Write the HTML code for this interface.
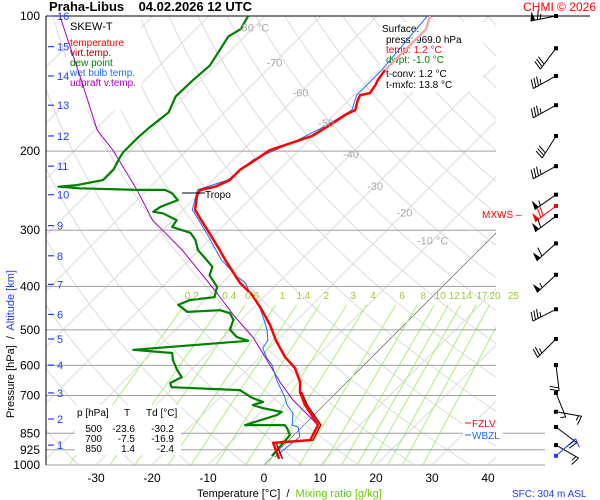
<!DOCTYPE html>
<html><head><meta charset="utf-8">
<style>
html,body{margin:0;padding:0;background:#fff;}
svg{display:block;font-family:"Liberation Sans",sans-serif;}
</style></head>
<body>
<svg id="chart" width="600" height="500" viewBox="0 0 600 500" xmlns="http://www.w3.org/2000/svg">
<rect x="0" y="0" width="600" height="500" fill="#fff"/>
<defs><clipPath id="plotclip"><rect x="46" y="16" width="450" height="449"/></clipPath></defs>
<g id="grid" clip-path="url(#plotclip)"></g>
<g id="isobars"></g>

<g>
<rect x="66" y="17" width="75" height="93" fill="#fff"/>
<text x="70" y="30" font-size="11" fill="#000">SKEW-T</text>
<text x="70" y="46" font-size="10" fill="#f00">temperature</text>
<text x="70" y="56" font-size="10" fill="#a00000">virt.temp.</text>
<text x="70" y="66" font-size="10" fill="#008000">dew point</text>
<text x="70" y="76" font-size="10" fill="#1e6cff">wet bulb temp.</text>
<text x="70" y="86" font-size="10" fill="#a000c0">udpraft v.temp.</text>
</g>

<g>
<rect x="380" y="22" width="103" height="70" fill="#fff"/>
<text x="382" y="32" font-size="10" fill="#000">Surface:</text>
<text x="386" y="43" font-size="10" fill="#000">press: 969.0 hPa</text>
<text x="386" y="53" font-size="10" fill="#f00">temp: 1.2 °C</text>
<text x="386" y="63" font-size="10" fill="#008000">dwpt: -1.0 °C</text>
<text x="386" y="77" font-size="10" fill="#000">t-conv: 1.2 °C</text>
<text x="386" y="88" font-size="10" fill="#000">t-mxfc: 13.8 °C</text>
</g>

<g>
<rect x="75" y="405" width="106" height="50" fill="#fff"/>
<text x="77" y="416" font-size="10" fill="#000">p [hPa]</text>
<text x="124" y="416" font-size="10" fill="#000">T</text>
<text x="146" y="416" font-size="10" fill="#000">Td [°C]</text>
<text x="102" y="432" font-size="10" fill="#000" text-anchor="end">500</text>
<text x="135" y="432" font-size="10" fill="#000" text-anchor="end">-23.6</text>
<text x="174" y="432" font-size="10" fill="#000" text-anchor="end">-30.2</text>
<text x="102" y="442" font-size="10" fill="#000" text-anchor="end">700</text>
<text x="135" y="442" font-size="10" fill="#000" text-anchor="end">-7.5</text>
<text x="174" y="442" font-size="10" fill="#000" text-anchor="end">-16.9</text>
<text x="102" y="452" font-size="10" fill="#000" text-anchor="end">850</text>
<text x="135" y="452" font-size="10" fill="#000" text-anchor="end">1.4</text>
<text x="174" y="452" font-size="10" fill="#000" text-anchor="end">-2.4</text>
</g>

<g>
<rect x="463" y="417" width="40" height="24" fill="#fff"/>
<line x1="465" y1="423" x2="471" y2="423" stroke="#f00"/>
<text x="472" y="427" font-size="10" fill="#f00">FZLV</text>
<line x1="465" y1="435" x2="471" y2="435" stroke="#1e6cff"/>
<text x="472" y="439" font-size="10" fill="#1e6cff">WBZL</text>
</g>

<g id="series" clip-path="url(#plotclip)"></g>
<g id="labels"></g>
<g id="barbs"></g>

<text x="49" y="11" font-size="13" font-weight="bold" fill="#000">Praha-Libus&#160;&#160;&#160; 04.02.2026 12 UTC</text>
<text x="596" y="11" font-size="12" fill="#f00" text-anchor="end">CHMI © 2026</text>

<g>
<line x1="182" y1="193" x2="205" y2="193" stroke="#000" stroke-width="1"/>
<text x="205" y="198" font-size="10" fill="#000">Tropo</text>
</g>
<text x="482" y="218" font-size="10" fill="#f00">MXWS –</text>

<text x="197" y="497" font-size="11" fill="#000">Temperature [°C]&#160; / &#160;<tspan fill="#66cc00">Mixing ratio [g/kg]</tspan></text>
<text x="512" y="497" font-size="10" fill="#1e3cff">SFC: 304 m ASL</text>
<text transform="translate(14,418) rotate(-90)" font-size="11" fill="#000">Pressure [hPa]&#160; /&#160; <tspan fill="#1e3cff">Altitude [km]</tspan></text>

<script>
// ---- data ----
const tempP = [969,893,880,814,735,688,653,608,575,527,488,452,418,393,349,332,307,282,270,250,244,240,232,220,209,199,194,189,185,175,166,162,154,150,148.5,142,139,132];
const tempT = [1.6,-2.3,3.8,2.5,-3.4,-6.6,-8.4,-11.8,-15.5,-20.2,-23.9,-28,-32.5,-36.8,-43.6,-46.3,-50.7,-55.5,-57.9,-60.2,-60.5,-58.4,-57,-57,-56,-55.2,-53.4,-51.6,-50.2,-48.9,-48,-47.1,-48.4,-48.9,-47.5,-48,-48.4,-48.9];
const tempUpperP = [132,119,107,100];
const tempUpperT = [-48.9,-48.9,-48.9,-50.5];
const virtP = [969,893,880,814,735,688];
const virtT = [2.2,-1.8,4.3,3.0,-3.0,-6.3];
const dewP = [955,893,858,827,815,815,774,762,747,735,724,709,681,671,657,637,614,584,563,554,529,519,500,475,459,452,456,440,429,423,401,378,362,346,332,315,304,295,285,275,273,266,257,248,244,244,242,240,238,232,220,209,201,187,177,164,151,139,129,119,111,107,100];
const dewT = [-0.2,-0.5,-0.7,-2.5,-3.4,-10.5,-6.6,-6.3,-10.4,-12.7,-11.4,-14.1,-17.7,-30.4,-31.4,-30.4,-32.5,-35,-36.4,-43.9,-25,-27.7,-30.2,-31.4,-33.2,-35.5,-41,-43.9,-42.7,-38.8,-40.2,-43.6,-44.6,-47.5,-50.2,-52.5,-54.6,-58.9,-59.3,-63,-65,-64.6,-62.7,-65,-66.8,-71.8,-82.3,-86.4,-83.4,-79.6,-79.6,-80.5,-81,-81,-80.7,-80,-81.6,-81.4,-81,-82,-82.9,-82,-83];
const wetP = [960,889,866,823,815,766,735,706,647,599,578,549,527,500,468,436,414,393,381,349,307,270,244,232,209,189,175,162,150,132,100];
const wetT = [0.5,1.1,1.4,-0.7,-2.1,-4.1,-6.6,-8.4,-12.9,-16.4,-18.6,-21.1,-21.6,-23.6,-26.6,-30,-33.2,-35.9,-38.4,-44.3,-51.2,-58.4,-61,-57.4,-56.4,-52,-49.4,-47.7,-49.5,-49.5,-51];
const parcelP = [815,754,717,653,584,521,463,414,332,285,244,199,179.5,140,100.5];
const parcelT = [2.5,-2.9,-6.4,-12,-18.2,-24.6,-32.3,-39.1,-53,-63.6,-71.8,-83.2,-89.6,-101,-116.4];
const pressureTicks = [100,200,300,400,500,600,700,850,925,1000];
const tempTicks = [-30,-20,-10,0,10,20,30,40];
const altKm = [16,15,14,13,12,11,10,9,8,7,6,5,4,3,2,1];
const altP = [100,117,136,158,185,216,250,293,342,396,462,524,599,691,790,903];
const mixRatios = [0.2,0.4,0.6,1,1.4,2,3,4,6,8,10,12,14,17,20,25];
const isoLabels = [-80,-70,-60,-50,-40,-30,-20,-10];
const isoLabelP = [106,127,148,173,203,239,274,316];
const barbP = [100,118,136,158,185,216,250,265,279,321,377,450,524,599,691,761,823,903,954];
const barbDir = [259,217,241,241,212,241,235,233,233,228,227,243,225,173,158,100,127,120,49];
const barbSpd = [65,30,35,35,30,35,55,70,60,60,55,35,25,20,5,15,20,15,10];

// ---- scales ----
const NS='http://www.w3.org/2000/svg';
function yP(p){return 16+449*Math.log10(p/100);}
function xT(T,p){return 264+5.6*T+(465-yP(p));}
function mk(tag,attrs,parent){const e=document.createElementNS(NS,tag);for(const k in attrs)e.setAttribute(k,attrs[k]);parent.appendChild(e);return e;}
function pathFrom(ps,ts){return ps.map((p,i)=>(i?'L':'M')+xT(ts[i],p).toFixed(1)+','+yP(p).toFixed(1)).join('');}

const grid=document.getElementById('grid');
const isob=document.getElementById('isobars');
const ser=document.getElementById('series');
const lab=document.getElementById('labels');
const barbs=document.getElementById('barbs');

for(let T=-140;T<=50;T+=10){
  const l=mk('line',{x1:xT(T,1000),y1:yP(1000),x2:xT(T,100),y2:yP(100),stroke:T===0?'#777':'#dcdcdc','stroke-width':T===0?0.8:1},grid);
  
  
}
for(let th=230;th<=480;th+=10){
  let d='';
  for(let p=1050;p>=100;p-=10){const T=th*Math.pow(p/1000,0.286)-273.15;d+=(d?'L':'M')+xT(T,p).toFixed(1)+','+yP(p).toFixed(1);}
  const e=mk('path',{d:d,fill:'none',stroke:'#dcdcdc','stroke-width':1},grid);
  
  
}
function tdFromW(w,p){const es=w*p/(622+w);const a=Math.log(es/6.112);return 243.5*a/(17.67-a);}
mixRatios.forEach(w=>{
  const e=mk('line',{x1:xT(tdFromW(w,1000),1000),y1:yP(1000),x2:xT(tdFromW(w,440),440),y2:yP(440),stroke:'#a8f080','stroke-width':1},grid);
  
  
  const t=mk('text',{x:xT(tdFromW(w,418),418),y:yP(418)+4,'font-size':10,fill:'#99cc33','text-anchor':'middle'},lab);
  t.textContent=String(w);
  
  
});
pressureTicks.forEach(p=>{
  const x2=(p>=850)?545:(p===100?590:496);
  const e=mk('line',{x1:46,y1:yP(p),x2:x2,y2:yP(p),stroke:p===100?'#000':'#a0a0a0','stroke-width':1},isob);
  
  
  const t=mk('text',{x:40,y:yP(p)+4,'font-size':12,fill:'#000','text-anchor':'end'},lab);
  t.textContent=String(p);
  
  
});
const ax=mk('line',{x1:46,y1:16,x2:46,y2:465,stroke:'#000','stroke-width':1},isob);


tempTicks.forEach(T=>{
  const t=mk('text',{x:xT(T,1000),y:482,'font-size':12,fill:'#000','text-anchor':'middle'},lab);
  t.textContent=String(T);
  
  
});
isoLabels.forEach((T,i)=>{
  const p=isoLabelP[i];
  const t=mk('text',{x:xT(T,p),y:yP(p)+4,'font-size':11,fill:'#aaa','text-anchor':'middle'},lab);
  t.textContent=(T===-80||T===-10)?(T+' °C'):String(T);
  
  
});
altKm.forEach((k,i)=>{
  const y=yP(altP[i]);
  const l=mk('line',{x1:48,y1:y,x2:54,y2:y,stroke:'#1e3cff','stroke-width':1.2},lab);
  
  
  const t=mk('text',{x:57,y:y+4,'font-size':11,fill:'#1e3cff'},lab);
  t.textContent=String(k);
  
  
});
function addSeries(ps,ts,color,w,name){
  const e=mk('path',{d:pathFrom(ps,ts),fill:'none',stroke:color,'stroke-width':w,'stroke-linejoin':'round'},ser);
  
  
}
addSeries(parcelP,parcelT,'#a000c0',1,'updraft-virtual-temp-line');
addSeries(dewP,dewT,'#008000',2.2,'dew-point-line');
addSeries(wetP,wetT,'#1e6cff',1,'wet-bulb-line');
addSeries(virtP,virtT,'#a00000',1.5,'virtual-temp-line');
addSeries(tempP,tempT,'#ff0000',2.5,'temperature-line');
addSeries(tempUpperP,tempUpperT,'#f4a8a8',2.5,'temperature-line-upper');

barbP.forEach((p,i)=>{
  const y0=yP(p), x0=556;
  const dr=barbDir[i]*Math.PI/180;
  const ux=Math.sin(dr), uy=-Math.cos(dr);
  const L=26;
  const x1=x0+ux*L, y1=y0+uy*L;
  const col = i===7?'#f00':(i===barbP.length-1?'#1e3cff':'#000');
  const g=mk('g',{},barbs);
  
  
  mk('line',{x1:x0,y1:y0,x2:x1,y2:y1,stroke:col,'stroke-width':1},g);
  mk('rect',{x:x0-2,y:y0-2,width:4,height:4,fill:col},g);
  const fx=-uy-0.3*ux, fy=ux-0.3*uy;
  let s=barbSpd[i], pos=0;
  while(s>=50){
    const ax1=x1-ux*pos, ay1=y1-uy*pos, bx=x1-ux*(pos+5), by=y1-uy*(pos+5);
    mk('polygon',{points:ax1+','+ay1+' '+(ax1+fx*9)+','+(ay1+fy*9)+' '+bx+','+by,fill:col},g);
    pos+=7; s-=50;
  }
  while(s>=10){
    const ax1=x1-ux*pos, ay1=y1-uy*pos;
    mk('line',{x1:ax1,y1:ay1,x2:ax1+fx*9,y2:ay1+fy*9,stroke:col,'stroke-width':1},g);
    pos+=3; s-=10;
  }
  if(s>=5){
    const ax1=x1-ux*pos, ay1=y1-uy*pos;
    mk('line',{x1:ax1,y1:ay1,x2:ax1+fx*5,y2:ay1+fy*5,stroke:col,'stroke-width':1},g);
  }
});
</script>
</svg>
</body></html>
